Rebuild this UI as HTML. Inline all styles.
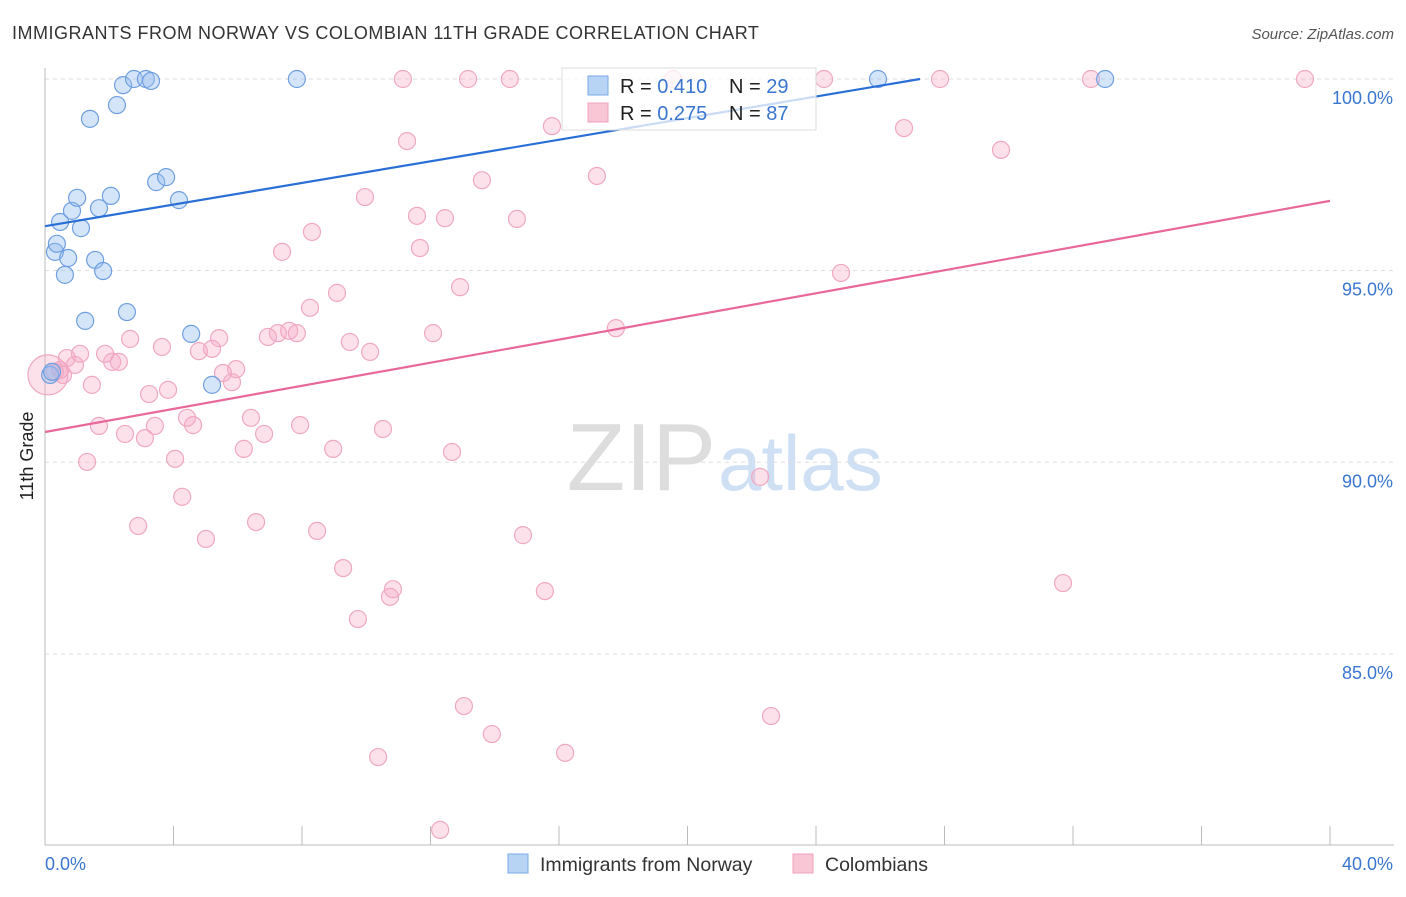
<!DOCTYPE html>
<html><head><meta charset="utf-8"><style>
body{margin:0;background:#fff;font-family:"Liberation Sans",sans-serif;}
svg text{font-family:"Liberation Sans",sans-serif;}
</style></head><body>
<svg id="chart" width="1406" height="892" xmlns="http://www.w3.org/2000/svg">
<text x="12" y="39" font-size="18" fill="#333" letter-spacing="0.5">IMMIGRANTS FROM NORWAY VS COLOMBIAN 11TH GRADE CORRELATION CHART</text>
<text x="1394" y="39" font-size="15" fill="#555" text-anchor="end" font-style="italic">Source: ZipAtlas.com</text>
<text x="716" y="490" font-size="96" fill="#ddd" text-anchor="end" font-family="Liberation Serif">ZIP</text>
<text x="718" y="490" font-size="78" fill="#cfe0f5">atlas</text>
<g id="grid"></g><g id="axes"></g><g id="pts"></g><g id="lines"></g>
<text x="33" y="456" font-size="18" fill="#222" text-anchor="middle" transform="rotate(-90 33 456)">11th Grade</text>
<g>
<rect x="562" y="68" width="254" height="62" fill="rgba(255,255,255,0.75)" stroke="#ddd"/>
<rect x="588" y="76" width="20" height="19" fill="#b8d4f5" stroke="#7aaae8"/>
<text x="620" y="93" font-size="20" fill="#222">R = <tspan fill="#3a76d0">0.410</tspan></text>
<text x="729" y="93" font-size="20" fill="#222">N = <tspan fill="#3a76d0">29</tspan></text>
<rect x="588" y="103" width="20" height="19" fill="#f9c6d6" stroke="#f0a0bc"/>
<text x="620" y="120" font-size="20" fill="#222">R = <tspan fill="#3a76d0">0.275</tspan></text>
<text x="729" y="120" font-size="20" fill="#222">N = <tspan fill="#3a76d0">87</tspan></text>
</g>
<g><rect x="508" y="854" width="20" height="19" fill="#b8d4f5" stroke="#7aaae8"/><text x="540" y="871" font-size="19.5" fill="#333">Immigrants from Norway</text></g>
<g><rect x="793" y="854" width="20" height="19" fill="#f9c6d6" stroke="#f0a0bc"/><text x="825" y="871" font-size="19.5" fill="#333">Colombians</text></g>
</svg>
<script>
const blueX=[0.16,0.22,0.31,0.37,0.47,0.62,0.72,0.84,1.0,1.12,1.25,1.40,1.56,1.68,1.81,2.05,2.24,2.43,2.55,2.77,3.14,3.3,3.46,3.77,4.17,4.55,5.2,7.84,25.93,33.0];
const blueY=[92.28,92.36,95.49,95.70,96.27,94.89,95.33,96.56,96.90,96.11,93.69,98.96,95.28,96.63,94.99,96.95,99.32,99.84,93.92,100,100,99.95,97.31,97.44,96.84,93.35,92.02,100,100,100];
const pinkX=[0.09,0.31,0.47,0.56,0.68,0.93,1.09,1.31,1.46,1.68,1.87,2.09,2.30,2.49,2.65,2.90,3.11,3.24,3.42,3.64,3.83,4.05,4.27,4.42,4.61,4.79,5.01,5.2,5.42,5.54,5.82,5.95,6.19,6.41,6.57,6.82,6.94,7.25,7.38,7.6,7.84,7.94,8.25,8.31,8.47,8.97,9.09,9.28,9.49,9.74,9.96,10.12,10.37,10.52,10.74,10.83,11.14,11.27,11.58,11.67,12.08,12.3,12.45,12.67,12.92,13.04,13.17,13.6,13.91,14.47,14.69,14.88,15.56,15.78,16.19,17.18,17.77,19.55,22.26,22.6,24.25,24.78,26.74,27.86,29.76,31.69,32.56,39.22];
const pinkY=[92.28,92.36,92.41,92.28,92.72,92.54,92.83,90.01,92.02,90.95,92.83,92.62,92.62,90.74,93.22,88.34,90.63,91.78,90.95,93.01,91.89,90.09,89.10,91.16,90.97,92.90,88.0,92.96,93.24,92.33,92.09,92.43,90.35,91.16,88.44,90.74,93.27,93.37,95.49,93.43,93.37,90.97,94.03,96.01,88.21,90.35,94.42,87.24,93.14,85.91,96.92,92.88,82.31,90.87,86.49,86.69,100,98.38,96.43,95.59,93.37,80.41,96.37,90.27,94.57,83.64,100,97.36,82.91,100,96.35,88.10,86.64,98.77,82.42,97.47,93.50,100,89.62,83.38,100,94.94,98.72,100,98.15,86.85,100,100];
const blueTrendX=[0,27.24];
const blueTrendY=[96.16,100];
const pinkTrendX=[0,40];
const pinkTrendY=[90.79,96.82];
const yTicks=[100,95,90,85];
const yTickLabels=["100.0%","95.0%","90.0%","85.0%"];
const xEndLabels=["0.0%","40.0%"];
const NS="http://www.w3.org/2000/svg";
const sx=v=>45+v*(1285/40);
const sy=v=>79+(100-v)*38.33;
function mk(tag,attrs,parent){const e=document.createElementNS(NS,tag);for(const k in attrs)e.setAttribute(k,attrs[k]);parent.appendChild(e);return e;}
const grid=document.getElementById('grid'),axes=document.getElementById('axes'),pts=document.getElementById('pts'),lines=document.getElementById('lines');
yTicks.forEach((t,i)=>{
 const l=mk('line',{x1:45,x2:1394,y1:sy(t),y2:sy(t),stroke:'#ddd','stroke-dasharray':'4,4'},grid);
 
 
 const tx=mk('text',{x:1393,y:sy(t)+25,'font-size':18,fill:'#3a76d0','text-anchor':'end'},axes);
 tx.textContent=yTickLabels[i];
 
 
});
const ya=mk('line',{x1:45,x2:45,y1:68,y2:845,stroke:'#bbb'},axes);


const xa=mk('line',{x1:45,x2:1394,y1:845,y2:845,stroke:'#bbb'},axes);


for(let i=0;i<=10;i++){
 const t=mk('line',{x1:sx(i*4),x2:sx(i*4),y1:826,y2:845,stroke:'#bbb'},axes);
 
 
}
[[0,'start',45],[40,'end',1393]].forEach((d,i)=>{
 const t=mk('text',{x:d[2],y:870,'font-size':18,fill:'#3a76d0','text-anchor':d[1]},axes);
 t.textContent=xEndLabels[i];
 
 
});
pinkX.forEach((x,i)=>{
 const c=mk('circle',{cx:sx(x),cy:sy(pinkY[i]),r:i===0?20:8.5,fill:'rgba(246,170,198,0.35)',stroke:'#f0a8c2','stroke-width':1.2},pts);
 
 
});
blueX.forEach((x,i)=>{
 const c=mk('circle',{cx:sx(x),cy:sy(blueY[i]),r:8.5,fill:'rgba(150,190,240,0.4)',stroke:'#6f9fe0','stroke-width':1.2},pts);
 
 
});
const bl=mk('line',{x1:sx(blueTrendX[0]),y1:sy(blueTrendY[0]),x2:sx(blueTrendX[1]),y2:sy(blueTrendY[1]),stroke:'#2a6fd6','stroke-width':2.2},lines);


const pl=mk('line',{x1:sx(pinkTrendX[0]),y1:sy(pinkTrendY[0]),x2:sx(pinkTrendX[1]),y2:sy(pinkTrendY[1]),stroke:'#e8689a','stroke-width':2.2},lines);


</script>
</body></html>
